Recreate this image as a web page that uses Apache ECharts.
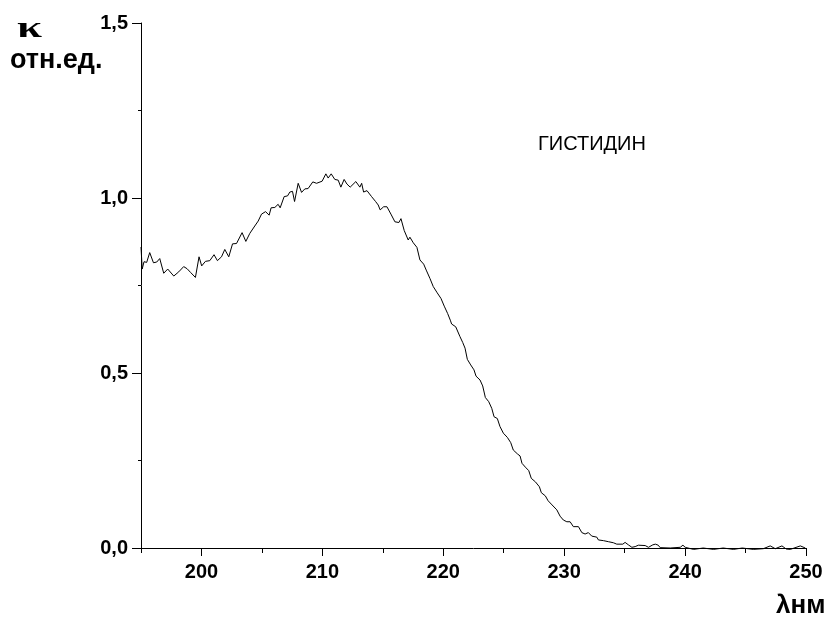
<!DOCTYPE html>
<html>
<head>
<meta charset="utf-8">
<script src="https://cdn.jsdelivr.net/npm/echarts@6/dist/echarts.min.js"></script>
<style>
  html, body { margin: 0; padding: 0; background: #fff; }
  #chart { width: 833px; height: 621px; }
</style>
</head>
<body>
<div id="chart"></div>
<script>
// длина волны, нм
var wavelength = [
  195.0, 195.1, 195.25, 195.47, 195.72, 196.03, 196.30, 196.55, 196.88, 197.21,
  197.71, 198.12, 198.53, 198.81, 199.11, 199.50, 199.80, 200.02, 200.33, 200.69,
  201.04, 201.32, 201.66, 201.93, 202.26, 202.57, 202.90, 203.36, 203.67, 204.00,
  204.41, 204.69, 204.97, 205.30, 205.60, 205.76, 206.07, 206.34, 206.51, 206.84,
  207.12, 207.31, 207.53, 207.70, 208.00, 208.28, 208.55, 208.82, 209.21, 209.52,
  209.98, 210.29, 210.48, 210.73, 211.03, 211.31, 211.53, 211.80, 212.03, 212.30,
  212.77, 213.10, 213.25, 213.41, 213.69, 214.07, 214.40, 214.62, 214.78, 215.07,
  215.34, 215.67, 216.00, 216.33, 216.50, 216.77, 217.10, 217.24, 217.52, 217.82,
  218.07, 218.38, 218.59, 218.90, 219.17, 219.50, 219.81, 220.08, 220.36, 220.58,
  220.69, 221.03, 221.38, 221.61, 221.80, 221.99, 222.27, 222.54, 222.71, 223.04,
  223.26, 223.48, 223.76, 224.01, 224.20, 224.47, 224.69, 224.97, 225.30, 225.58,
  225.79, 226.13, 226.35, 226.51, 226.79, 227.07, 227.28, 227.62, 227.95, 228.11,
  228.44, 228.67, 229.00, 229.39, 229.66, 229.93, 230.22, 230.49, 230.76, 231.18,
  231.46, 231.73, 232.00, 232.28, 232.70, 232.83, 233.25, 233.66, 234.07, 234.35,
  234.85, 235.04, 235.31, 235.60, 235.87, 236.14, 236.70, 236.97, 237.33, 237.54,
  237.78, 237.94, 238.77, 239.60, 239.82, 240.01, 240.70, 241.50, 242.35, 243.15,
  244.00, 244.73, 245.64, 246.47, 247.04, 247.46, 248.01, 248.37, 248.70, 249.53,
  249.94
];
// к, отн.ед.
var kappa = [
  0.860, 0.797, 0.818, 0.816, 0.844, 0.815, 0.817, 0.827, 0.785, 0.797,
  0.777, 0.789, 0.804, 0.798, 0.787, 0.773, 0.832, 0.806, 0.819, 0.821,
  0.838, 0.821, 0.832, 0.853, 0.832, 0.869, 0.870, 0.901, 0.876, 0.899,
  0.920, 0.934, 0.954, 0.961, 0.951, 0.972, 0.973, 0.982, 0.972, 1.004,
  1.006, 1.017, 1.019, 0.990, 1.042, 1.016, 1.026, 1.027, 1.046, 1.042,
  1.048, 1.069, 1.057, 1.069, 1.053, 1.051, 1.031, 1.053, 1.040, 1.031,
  1.047, 1.031, 1.042, 1.017, 1.021, 1.004, 0.990, 0.980, 0.966, 0.975,
  0.975, 0.954, 0.932, 0.930, 0.941, 0.907, 0.880, 0.888, 0.872, 0.859,
  0.823, 0.811, 0.794, 0.770, 0.747, 0.729, 0.713, 0.691, 0.670, 0.651,
  0.640, 0.632, 0.604, 0.587, 0.571, 0.539, 0.523, 0.509, 0.491, 0.480,
  0.463, 0.430, 0.418, 0.399, 0.375, 0.370, 0.347, 0.328, 0.316, 0.301,
  0.280, 0.269, 0.263, 0.242, 0.231, 0.221, 0.199, 0.189, 0.175, 0.158,
  0.149, 0.135, 0.123, 0.109, 0.091, 0.080, 0.075, 0.075, 0.061, 0.061,
  0.044, 0.040, 0.044, 0.034, 0.031, 0.023, 0.021, 0.018, 0.015, 0.011,
  0.011, 0.016, 0.009, 0.002, 0.004, 0.008, 0.007, 0.002, 0.009, 0.011,
  0.008, 0.001, 0.000, 0.002, 0.008, 0.002, -0.004, 0.000, -0.004, 0.000,
  -0.004, 0.000, -0.004, -0.002, 0.006, -0.002, 0.006, -0.003, -0.004, 0.006,
  0.000
];
var xMajorTicks = [200, 210, 220, 230, 240, 250];
var xMinorTicks = [195, 205, 215, 225, 235, 245];

var font = '"Liberation Sans", Arial, sans-serif';

var chart = echarts.init(document.getElementById('chart'), null, { renderer: 'canvas' });

var points = [];
for (var i = 0; i < wavelength.length; i++) {
  points.push([wavelength[i], kappa[i]]);
}

var option = {
  animation: false,
  backgroundColor: '#fff',
  grid: {
    left: 141,
    right: 27,
    top: 23,
    bottom: 73,
    containLabel: false,
    outerBoundsMode: 'none'
  },
  xAxis: [{
    type: 'value',
    min: 195,
    max: 250,
    interval: 5,
    axisLine: { show: true, onZero: false, lineStyle: { color: '#000', width: 1 } },
    axisTick: { show: true, length: 8, customValues: xMajorTicks, lineStyle: { color: '#000' } },
    axisLabel: {
      show: true,
      customValues: xMajorTicks,
      margin: 14,
      color: '#000',
      fontFamily: font,
      fontWeight: 'bold',
      fontSize: 20
    },
    splitLine: { show: false }
  }, {
    type: 'value',
    min: 195,
    max: 250,
    interval: 5,
    position: 'bottom',
    axisLine: { show: false },
    axisTick: { show: true, length: 5, customValues: xMinorTicks, lineStyle: { color: '#000' } },
    axisLabel: { show: false },
    splitLine: { show: false }
  }],
  yAxis: {
    type: 'value',
    min: 0,
    max: 1.5,
    interval: 0.5,
    axisLine: { show: true, onZero: false, lineStyle: { color: '#000', width: 1 } },
    axisTick: { show: true, length: 9, lineStyle: { color: '#000' } },
    minorTick: { show: true, splitNumber: 2, length: 3, lineStyle: { color: '#000' } },
    axisLabel: {
      margin: 13,
      color: '#000',
      fontFamily: font,
      fontWeight: 'bold',
      fontSize: 20,
      formatter: function (v) { return v.toFixed(1).replace('.', ','); }
    },
    splitLine: { show: false }
  },
  graphic: [
    {
      type: 'text', x: 17, y: 14, scaleX: 1.5,
      style: { text: 'κ', font: 'bold 30px "Liberation Serif", serif', fill: '#000' }
    },
    {
      type: 'text', left: 10, top: 47,
      style: { text: 'отн.ед.', font: 'bold 27px ' + font, fill: '#000' }
    },
    {
      type: 'text', left: 538, top: 134,
      style: { text: 'ГИСТИДИН', font: '20px ' + font, fill: '#000' }
    },
    {
      type: 'text', left: 776, top: 593,
      style: { text: 'λнм', font: 'bold 26px ' + font, fill: '#000' }
    }
  ],
  series: [{
    type: 'line',
    xAxisIndex: 0,
    data: points,
    showSymbol: false,
    symbol: 'none',
    smooth: false,
    clip: false,
    lineStyle: { color: '#000', width: 1 }
  }]
};

chart.setOption(option);
</script>
</body>
</html>
